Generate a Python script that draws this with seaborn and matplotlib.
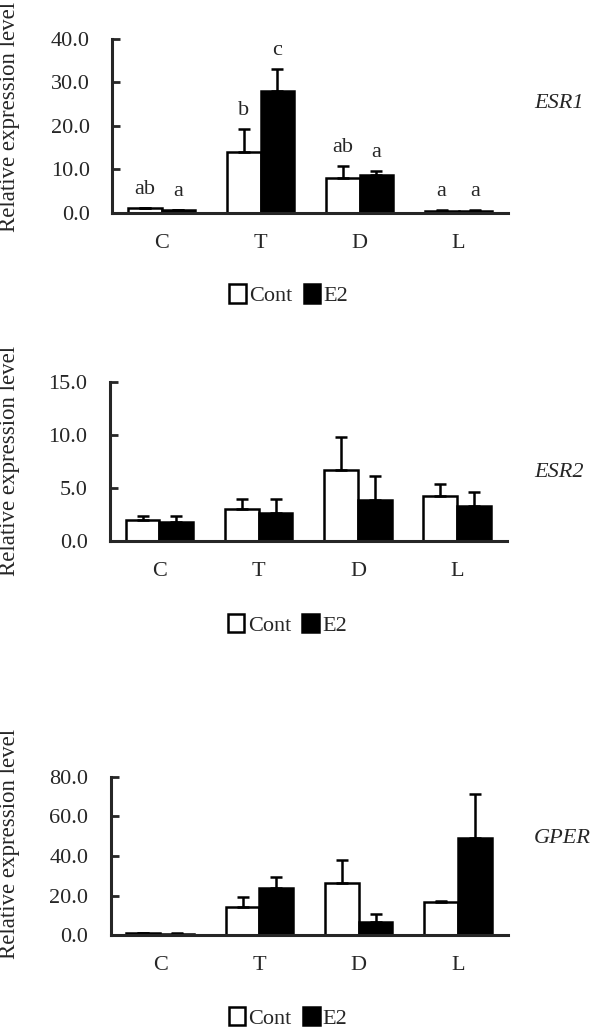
import seaborn as sns
import pandas as pd
import matplotlib.pyplot as plt
from matplotlib.ticker import FormatStrFormatter

categories = ["C", "T", "D", "L"]
groups = ["Cont", "E2"]

# ESR1
esr1_cont = [1.0, 14.0, 7.9, 0.4]
esr1_cont_err = [0.1, 5.3, 2.9, 0.2]
esr1_e2 = [0.6, 28.1, 8.7, 0.5]
esr1_e2_err = [0.1, 5.0, 0.9, 0.2]
esr1_letters_cont = ["ab", "b", "ab", "a"]
esr1_letters_e2 = ["a", "c", "a", "a"]

# ESR2
esr2_cont = [1.94, 2.98, 6.68, 4.2]
esr2_cont_err = [0.38, 1.02, 3.13, 1.13]
esr2_e2 = [1.82, 2.6, 3.89, 3.29]
esr2_e2_err = [0.56, 1.32, 2.22, 1.29]

# GPER
gper_cont = [1.2, 14.5, 26.4, 16.6]
gper_cont_err = [0.2, 5.0, 11.6, 0.7]
gper_e2 = [0.8, 24.0, 6.9, 49.2]
gper_e2_err = [0.2, 5.6, 3.7, 22.2]

sns.set_style("ticks")
plt.rcParams["font.family"] = ["Liberation Serif", "DejaVu Serif"]

FS = 16
W, H = 600, 1027

panels = [
    # gene, cont, cont_err, e2, e2_err, ymax, step, (left px, baseline px, width px, height px),
    # gene label y (axes frac), ylabel y (axes frac), legend y (axes frac), letters
    ("ESR1", esr1_cont, esr1_cont_err, esr1_e2, esr1_e2_err, 40, 10,
     (112, 212.7, 396, 173.7), 0.63, 0.55, -0.474, (esr1_letters_cont, esr1_letters_e2)),
    ("ESR2", esr2_cont, esr2_cont_err, esr2_e2, esr2_e2_err, 15, 5,
     (109.8, 541, 397, 159.3), 0.43, 0.50, -0.527, None),
    ("GPER", gper_cont, gper_cont_err, gper_e2, gper_e2_err, 80, 20,
     (110.6, 935.3, 397, 158.6), 0.61, 0.576, -0.521, None),
]

fig = plt.figure(figsize=(6, 10.27), dpi=100)

for gene, cont, cont_err, e2, e2_err, ymax, step, px, gy, ly, legy, letters in panels:
    left, base, wpx, hpx = px
    rect = [left / W, 1 - base / H, wpx / W, hpx / H]
    ax = fig.add_axes(rect)
    df = pd.DataFrame({
        "tissue": categories * 2,
        "group": ["Cont"] * 4 + ["E2"] * 4,
        "value": cont + e2,
    })
    sns.barplot(
        data=df, x="tissue", y="value", hue="group", order=categories,
        hue_order=groups, palette={"Cont": "white", "E2": "black"},
        edgecolor="black", linewidth=1.8, width=0.68, errorbar=None, ax=ax,
    )

    # upper error bars only
    for bars, vals, errs in zip(ax.containers, [cont, e2], [cont_err, e2_err]):
        xs = [b.get_x() + b.get_width() / 2 for b in bars]
        ax.errorbar(xs, vals, yerr=[[0] * len(errs), errs], fmt="none",
                    ecolor="black", elinewidth=1.8, capsize=4, capthick=1.8)

    # significance letters
    if letters is not None:
        for bars, vals, errs, labs in zip(ax.containers, [cont, e2], [cont_err, e2_err], letters):
            for b, v, e, lab in zip(bars, vals, errs, labs):
                ax.annotate(lab, (b.get_x() + b.get_width() / 2, v + e),
                            xytext=(0, 10), textcoords="offset points",
                            ha="center", va="baseline", fontsize=FS)

    ax.set_xlim(-0.5, 3.5)
    ax.set_ylim(0, ymax)
    ax.set_yticks(range(0, ymax + 1, step))
    ax.yaxis.set_major_formatter(FormatStrFormatter("%.1f"))
    ax.tick_params(axis="y", direction="in", length=6, width=2, labelsize=FS, pad=16)
    ax.tick_params(axis="x", length=0, labelsize=FS, pad=15)
    ax.set_xlabel("")
    ax.set_ylabel("Relative expression level", fontsize=FS + 0.5)
    ax.yaxis.set_label_coords((20 - left) / wpx, ly)
    for s in ["left", "bottom"]:
        ax.spines[s].set_linewidth(2.2)
    sns.despine(ax=ax)

    ax.legend(loc="center", bbox_to_anchor=(0.447, legy), ncol=2, frameon=False,
              fontsize=FS, handlelength=0.75, handleheight=0.9,
              handletextpad=0.15, columnspacing=0.5, borderaxespad=0)

    fig.text(534 / W, rect[1] + gy * rect[3], gene, style="italic",
             fontsize=FS, ha="left", va="center")

fig.savefig("out.png", dpi=100)
